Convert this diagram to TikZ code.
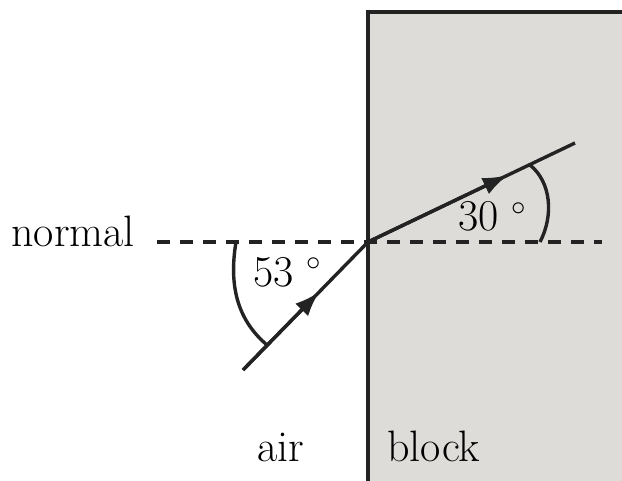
\documentclass[tikz,border=0pt]{standalone}
\usetikzlibrary{arrows.meta,calc}

\definecolor{blockgray}{RGB}{221,220,217}
\definecolor{inkgray}{RGB}{35,35,35}

\begin{document}
\begin{tikzpicture}[x=0.5pt, y=-0.5pt, >={Latex[length=12.5pt,width=9pt]},
    ray/.style={inkgray, line width=1.7pt},
    lbl/.style={inner sep=0pt, anchor=base west, font=\fontsize{22}{26}\selectfont}]
  \useasboundingbox (0,0) rectangle (622,481);
  % block
  \fill[blockgray] (368,12) rectangle (622,481);
  \draw[inkgray, line width=2pt] (368,481) -- (368,12) -- (622,12);
  % normal
  \draw[inkgray, line width=1.7pt, dash pattern=on 6.5pt off 5pt] (157,242) -- (602,242);
  \node[lbl] (normal) at (11,247) {normal};
  % rays
  \coordinate (O) at (368,242);
  \coordinate (A) at (243,370);
  \coordinate (B) at (575,143);
  \coordinate (mA) at ($(A)!0.61!(O)$);
  \coordinate (mB) at ($(O)!0.675!(B)$);
  \draw[ray] (A) -- (O) -- (B);
  \draw[ray, ->] (A) -- (mA);
  \draw[ray, ->] (O) -- (mB);
  % angles
  \draw[ray] (236,242) .. controls (228,290) and (240,322) .. (267,345);
  \draw[ray] (530,165) .. controls (551,182) and (554,215) .. (540,242);
  \node[lbl] (inc) at (253,286) {53\;$^\circ$};
  \node[lbl] (ref) at (458,231) {30\;$^\circ$};
  % media
  \node[lbl] (air) at (257,461) {air};
  \node[lbl] (block) at (387,461) {block};
\end{tikzpicture}
\end{document}
